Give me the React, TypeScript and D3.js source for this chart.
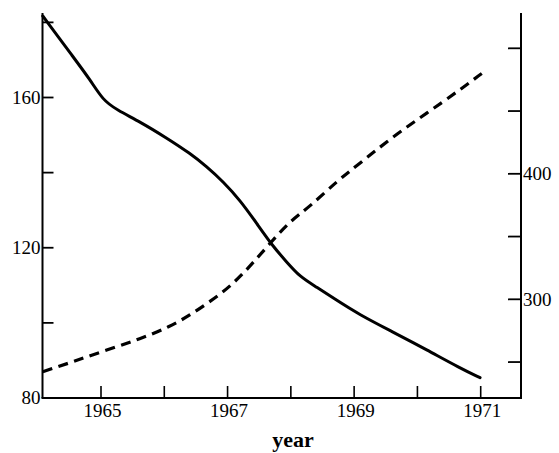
import React from "react";
import * as d3 from "d3";

// Solid line (left axis)
const solidYears = [1964.08, 1964.56, 1964.83, 1965.03, 1965.25, 1965.62, 1966.04, 1966.41, 1966.67, 1966.93, 1967.2, 1967.46, 1967.72, 1967.93, 1968.14, 1968.41, 1968.67, 1969.09, 1969.61, 1970.15, 1970.67, 1970.99];
const solidValues = [181.7, 170.8, 164.7, 159.3, 156.7, 153.5, 149.2, 145.1, 141.6, 137.6, 132.6, 126.5, 120.3, 116.3, 112.3, 109.5, 106.6, 102.1, 97.6, 92.8, 88.0, 85.4];

// Dashed line (right axis)
const dashedYears = [1964.08, 1964.56, 1965.09, 1965.62, 1966.09, 1966.41, 1966.72, 1967.04, 1967.35, 1967.67, 1967.99, 1968.3, 1968.75, 1969.06, 1969.61, 1970.15, 1970.67, 1971.02];
const dashedValues = [242.3, 250.3, 259.6, 268.4, 278.2, 287.5, 298.1, 310.0, 326.0, 344.6, 362.4, 373.8, 395.1, 407.0, 429.6, 448.4, 466.8, 480.1];

const xTicks = [1965, 1966, 1967, 1968, 1969, 1970, 1971];
const xTickLabels = ["1965", "", "1967", "", "1969", "", "1971"];
const leftTicks = [100, 120, 140, 160, 180];
const leftLabels = ["80", "120", "160"];
const leftLabelValues = [80, 120, 160];
const rightTicks = [250, 300, 350, 400, 450, 500];
const rightLabels = ["300", "400"];
const rightLabelValues = [300, 400];
const xTitle = "year";

const W = 559;
const H = 453;
const AX_LEFT = 42.5;
const AX_RIGHT = 521;
const AX_TOP = 13;
const AX_BOTTOM = 398;
const TICK = 12;
const FONT = "'Liberation Serif', 'Times New Roman', serif";

export default function App() {
  const x = d3.scaleLinear().domain([1965, 1971]).range([101, 480.7]);
  const yL = d3.scaleLinear().domain([80, 160]).range([398, 97.5]);
  const yR = d3.scaleLinear().domain([300, 500]).range([299.3, 48.3]);

  const solidPts: [number, number][] = solidYears.map((yr, i) => [x(yr), yL(solidValues[i])]);
  const dashedPts: [number, number][] = dashedYears.map((yr, i) => [x(yr), yR(dashedValues[i])]);
  const line = d3.line<[number, number]>().x(d => d[0]).y(d => d[1]).curve(d3.curveBasis);

  return (
    <svg width={W} height={H} style={{ position: "absolute", left: 0, top: 0, background: "#fff" }}>
      <rect x={0} y={0} width={W} height={H} fill="#fff" />
      {/* axes */}
      <g stroke="#000" strokeWidth={2} fill="none">
        <line x1={AX_LEFT} y1={AX_TOP} x2={AX_LEFT} y2={AX_BOTTOM} />
        <line x1={AX_RIGHT} y1={AX_TOP} x2={AX_RIGHT} y2={AX_BOTTOM} />
        <line x1={AX_LEFT - 1} y1={AX_BOTTOM} x2={AX_RIGHT + 1} y2={AX_BOTTOM} />
        {xTicks.map(t => (
          <line key={"xt" + t} x1={x(t)} x2={x(t)} y1={AX_BOTTOM} y2={AX_BOTTOM - TICK} strokeWidth={1.6} />
        ))}
        {leftTicks.map(t => (
          <line key={"lt" + t} x1={AX_LEFT} x2={AX_LEFT + 11} y1={yL(t)} y2={yL(t)} strokeWidth={1.8} />
        ))}
        {rightTicks.map(t => (
          <line key={"rt" + t} x1={AX_RIGHT} x2={AX_RIGHT - 13} y1={yR(t)} y2={yR(t)} strokeWidth={1.8} />
        ))}
      </g>
      {/* tick labels */}
      <g fontFamily={FONT} fontSize={19} fill="#000">
        {xTicks.map((t, i) =>
          xTickLabels[i] ? (
            <text key={"xl" + t} x={x(t) + 1.5} y={417} textAnchor="middle">{xTickLabels[i]}</text>
          ) : null
        )}
        {leftLabels.map((l, i) => (
          <text key={"ll" + l} x={AX_LEFT - 2} y={yL(leftLabelValues[i])} dy="0.33em" textAnchor="end">{l}</text>
        ))}
        {rightLabels.map((l, i) => (
          <text key={"rl" + l} x={AX_RIGHT + 2} y={yR(rightLabelValues[i])} dy="0.33em" textAnchor="start">{l}</text>
        ))}
      </g>
      <text x={293} y={447} textAnchor="middle" fontFamily={FONT} fontSize={22} fontWeight="bold" fill="#000">{xTitle}</text>
      {/* data lines */}
      <path d={line(solidPts) || ""} fill="none" stroke="#000" strokeWidth={3} strokeLinecap="round" />
      <path d={line(dashedPts) || ""} fill="none" stroke="#000" strokeWidth={3.2} strokeDasharray="10,6.5" />
    </svg>
  );
}
